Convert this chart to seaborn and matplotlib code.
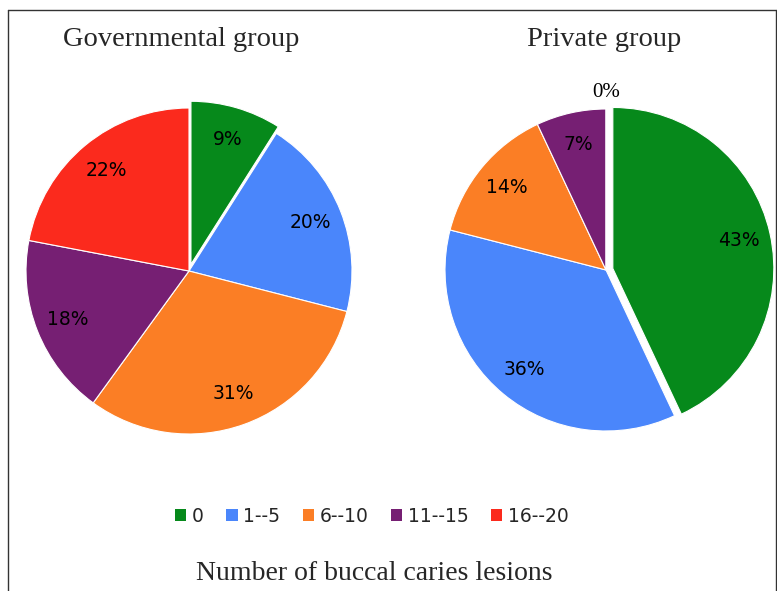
import matplotlib.pyplot as plt
import seaborn as sns
from matplotlib.lines import Line2D
from matplotlib.patches import Patch

# data
categories = ["0", "1--5", "6--10", "11--15", "16--20"]
gov_values = [9, 20, 31, 18, 22]
private_values = [43, 36, 14, 7, 0]
colors = ["#06891b", "#4a86fb", "#fb7e25", "#761f73", "#fb2a1d"]

sns.set_style("white")
plt.rcParams['font.family'] = ['DejaVu Sans']

W, H = 777, 591
fig = plt.figure(figsize=(W / 100, H / 100), dpi=100)
ax = fig.add_axes([0, 0, 1, 1])

# explode is in data units (pixels here)
explode = [7, 0, 0, 0, 0]


def draw_pie(values, cx, cy, r, title, tx):
    wedges, texts, autotexts = ax.pie(
        values, colors=colors, startangle=90, counterclock=False,
        center=(cx, H - cy), radius=r, explode=explode,
        autopct=lambda p: f"{p:.0f}%", pctdistance=0.8,
        wedgeprops=dict(edgecolor="white", linewidth=0.8),
        textprops=dict(fontsize=13.5, color="black"))
    for v, t in zip(values, autotexts):
        if v == 0:
            # zero slice: put the label just outside the rim
            x, y = t.get_position()
            sx = cx + (x - cx) * 1.38
            sy = (H - cy) + (y - (H - cy)) * 1.38
            t.set_position((sx, sy))
            t.set_family("Liberation Serif")
            t.set_fontsize(15)
    ax.text(tx, H - 40, title, ha="center", va="center",
            family="Liberation Serif", fontsize=20.5)


draw_pie(gov_values, 189, 271, 163, "Governmental group", 181)
draw_pie(private_values, 606, 270, 161, "Private group", 604)

ax.set_xlim(0, W)
ax.set_ylim(0, H)
ax.set_aspect("equal")
ax.axis("off")

handles = [Patch(facecolor=c, edgecolor="none") for c in colors]
fig.legend(handles, categories, loc="center", bbox_to_anchor=(372 / W, 1 - 516 / H),
           ncol=5, frameon=False, fontsize=13.5, handlelength=0.6, handleheight=0.6,
           handletextpad=0.3, columnspacing=1.2)

fig.text(374 / W, 1 - 573 / H, "Number of buccal caries lesions", ha="center",
         va="center", family="Liberation Serif", fontsize=20)

# frame lines (top, left, right)
fx0, fx1, fy = 8 / W, 776 / W, 1 - 10 / H
fig.add_artist(Line2D([fx0, fx1], [fy, fy], color="#333333", lw=1))
fig.add_artist(Line2D([fx0, fx0], [0, fy], color="#333333", lw=1))
fig.add_artist(Line2D([fx1, fx1], [0, fy], color="#333333", lw=1))

fig.savefig("out.png", dpi=100)
